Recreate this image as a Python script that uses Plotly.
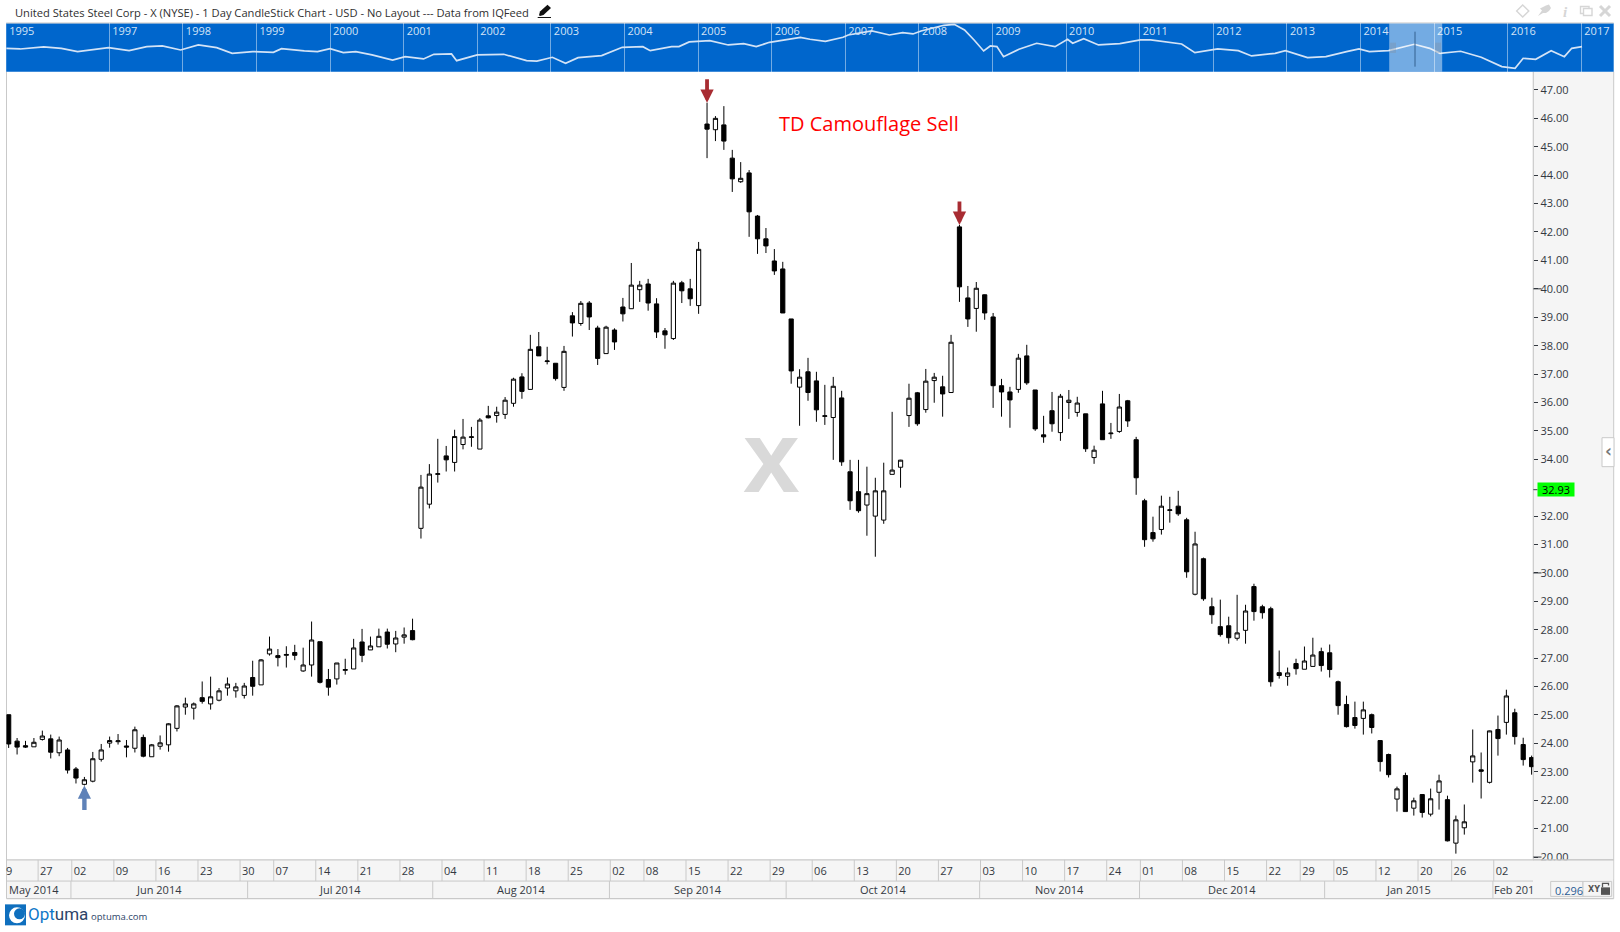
import pandas as pd
import plotly.graph_objects as go

W, H = 1620, 932

# ---------- daily candles ----------
holidays = ["2014-05-26", "2014-07-04", "2014-09-01", "2014-11-27", "2014-12-25", "2015-01-01", "2015-01-19"]
dates = [d.strftime("%Y-%m-%d") for d in pd.bdate_range("2014-05-20", "2015-02-06") if d.strftime("%Y-%m-%d") not in holidays]

opens = [25.01,24.08,23.92,23.88,24.14,24.16,23.67,23.77,23.10,22.56,
22.67,23.44,24.01,24.06,23.91,23.83,24.21,23.53,23.90,23.95,
24.53,25.28,25.24,25.61,25.39,25.52,25.95,25.85,25.69,26.32,
26.06,27.15,27.09,27.10,27.20,26.55,26.76,27.58,26.25,26.27,
26.57,26.62,27.57,27.29,27.40,27.92,27.50,27.74,27.97,
31.57,32.42,33.47,34.12,33.89,34.52,34.77,34.36,35.53,35.54,
35.58,35.97,36.90,36.46,37.96,37.44,37.38,36.53,39.05,38.78,
39.50,38.62,37.72,38.55,39.36,39.30,39.97,40.17,39.47,38.52,
38.25,40.21,40.00,39.41,45.80,45.60,45.77,44.60,43.77,44.08,
42.56,41.76,40.98,40.70,38.94,
36.54,37.08,36.76,35.51,35.47,36.16,33.56,32.86,32.39,32.00,31.86,33.47,33.72,35.54,36.34,35.75,36.77,36.55,36.35,42.18,39.68,39.31,39.79,39.01,36.59,36.37,36.46,37.64,36.44,34.86,35.71,34.94,36.00,35.65,35.60,34.06,35.95,34.90,34.98,36.06,34.69,
32.54,31.42,31.53,32.20,32.35,31.87,29.25,30.50,28.81,28.11,28.14,27.70,27.98,29.52,28.81,28.74,26.49,26.36,26.81,26.61,26.71,27.23,27.19,26.17,25.37,24.91,24.88,25.01,24.10,23.61,22.04,22.87,21.72,22.20,21.51,22.28,22.02,20.49,21.03,23.35,23.07,22.63,24.49,24.74,25.08,23.96,23.50]

highs = [25.01,24.19,24.09,24.19,24.45,24.31,24.24,23.84,23.17,22.82,
23.70,23.98,24.24,24.33,24.12,24.59,24.31,23.98,24.28,24.71,
25.35,25.61,25.44,26.18,26.35,25.95,26.32,26.13,26.13,26.91,
26.97,27.76,27.32,27.42,27.47,27.37,28.29,27.58,26.62,26.83,
26.98,27.68,28.03,27.76,28.04,28.04,27.96,28.08,28.39,
33.45,33.83,34.72,34.47,35.04,35.42,35.14,35.45,35.88,35.85,
36.19,36.87,37.03,38.38,38.48,37.96,37.38,37.99,39.18,39.57,
39.57,38.70,38.70,38.61,39.68,40.91,40.28,40.35,39.67,38.62,
40.28,40.28,40.35,41.65,46.55,46.08,46.43,44.89,44.46,44.18,
42.60,42.14,41.40,40.95,38.94,
37.17,37.57,37.08,36.62,36.90,36.41,33.98,33.98,33.74,33.35,33.88,35.67,33.98,36.66,36.37,37.18,37.04,36.94,38.38,42.25,40.10,40.24,39.80,39.15,36.83,36.55,37.71,38.03,36.44,35.53,36.37,36.30,36.44,36.20,35.60,34.48,36.41,35.28,36.30,36.09,34.79,
32.61,31.98,32.72,32.68,32.89,31.94,31.45,30.54,29.13,29.06,28.46,29.23,28.88,29.62,28.88,28.81,27.27,26.67,26.98,27.41,27.72,27.37,27.48,26.21,25.68,25.47,25.47,25.05,24.10,23.64,22.48,22.97,22.09,22.20,22.41,22.90,22.16,21.46,21.85,24.49,23.68,24.45,24.98,25.89,25.22,24.20,23.57]

lows = [23.84,23.61,23.84,23.88,24.10,23.47,23.55,22.94,22.59,22.52,
22.63,23.36,23.85,23.96,23.51,23.68,23.51,23.53,23.78,23.71,
24.42,25.01,24.84,25.40,25.19,25.48,25.68,25.61,25.58,25.68,
26.06,27.09,26.71,26.67,26.93,26.52,26.35,26.11,25.68,26.07,
26.42,26.62,26.86,27.29,27.40,27.34,27.21,27.51,27.63,
31.21,32.27,33.18,33.57,33.57,34.35,34.44,34.36,35.44,35.29,
35.42,35.85,36.13,36.46,37.64,37.34,36.77,36.41,38.32,38.70,
38.55,37.32,37.72,37.85,38.85,39.30,39.54,39.23,38.27,37.89,
38.20,39.50,39.40,39.12,44.60,45.20,44.89,43.41,43.73,41.83,
41.23,41.26,40.49,39.15,36.66,
35.18,36.06,35.32,35.21,33.98,33.77,32.22,32.12,31.31,30.57,31.73,33.47,33.00,35.14,35.18,35.64,35.99,35.50,36.35,39.54,38.66,38.49,38.91,35.81,35.50,35.11,36.34,36.62,35.00,34.58,34.97,34.65,35.42,35.50,34.26,33.84,34.69,34.72,34.93,35.14,32.75,
30.92,31.10,31.35,31.77,32.01,29.83,29.21,29.02,28.21,27.76,27.51,27.62,27.51,28.32,28.39,26.00,26.28,26.03,26.42,26.61,26.70,26.53,26.32,25.01,24.56,24.52,24.31,24.35,23.01,22.80,21.60,21.60,21.46,21.39,21.43,21.67,20.55,20.12,20.79,22.62,22.06,22.59,23.57,24.31,23.96,23.22,22.90]

closes = [23.98,23.87,23.87,24.04,24.26,23.69,24.12,23.06,22.78,22.72,
23.46,23.77,24.10,24.09,23.87,24.48,23.55,23.95,24.02,24.69,
25.32,25.39,25.39,25.48,25.64,25.85,26.09,25.99,26.02,26.01,
26.94,27.32,27.02,27.13,27.10,26.76,27.64,26.15,25.98,26.83,
26.60,27.36,27.10,27.43,27.77,27.49,27.71,27.82,27.65,
33.02,33.48,33.49,33.98,34.80,34.78,34.79,35.38,35.46,35.66,
36.08,36.82,36.39,37.87,37.64,37.46,36.84,37.80,38.80,39.49,
39.01,37.55,38.65,38.13,39.12,40.13,40.13,39.50,38.48,38.38,
40.20,39.93,39.65,41.39,45.62,46.00,45.20,43.87,43.89,42.71,
41.76,41.51,40.63,39.15,37.11,
36.89,36.35,35.74,35.53,36.57,33.91,32.54,32.19,32.79,32.89,32.89,33.62,33.97,36.15,35.25,36.75,36.89,36.30,38.12,40.07,38.94,40.02,39.15,36.59,36.37,36.09,37.56,36.69,35.07,34.79,35.25,36.22,36.08,35.98,34.37,34.32,34.69,34.92,35.84,35.35,33.35,
31.17,31.20,32.35,32.22,32.08,30.04,31.02,29.09,28.53,27.83,27.72,27.89,28.66,28.64,28.60,26.17,26.39,26.48,26.63,26.90,27.11,26.74,26.60,25.33,24.59,24.63,25.18,24.56,23.36,22.90,22.40,21.60,21.98,21.57,22.05,22.68,20.57,21.31,21.24,23.56,23.02,24.44,24.17,25.67,24.24,23.43,23.18]

assert len(dates) == len(opens) == len(highs) == len(lows) == len(closes), (len(dates), len(opens), len(highs), len(lows), len(closes))

week_dates = ["2014-05-27","2014-06-02","2014-06-09","2014-06-16","2014-06-23","2014-06-30","2014-07-07","2014-07-14","2014-07-21","2014-07-28",
              "2014-08-04","2014-08-11","2014-08-18","2014-08-25","2014-09-02","2014-09-08","2014-09-15","2014-09-22","2014-09-29",
              "2014-10-06","2014-10-13","2014-10-20","2014-10-27","2014-11-03","2014-11-10","2014-11-17","2014-11-24",
              "2014-12-01","2014-12-08","2014-12-15","2014-12-22","2014-12-29","2015-01-05","2015-01-12","2015-01-20","2015-01-26","2015-02-02"]
week_labels = [d[-2:] for d in week_dates]
month_starts = ["2014-06-02","2014-07-01","2014-08-01","2014-09-02","2014-10-01","2014-11-03","2014-12-01","2015-01-02","2015-02-02"]
month_labels = ["Jun 2014","Jul 2014","Aug 2014","Sep 2014","Oct 2014","Nov 2014","Dec 2014","Jan 2015"]

price_ticks = [47,46,45,44,43,42,41,40,39,38,37,36,35,34,32,31,30,29,28,27,26,25,24,23,22,21,20]
last_price = 32.93

sell_dates = ["2014-09-17", "2014-10-29"]
buy_dates = ["2014-06-03"]

# ---------- overview strip ----------
ov_year = [1995.6,1995.79,1996.11,1996.35,1996.57,1996.78,1996.99,1997.27,1997.51,1997.72,1997.97,1998.21,1998.46,1998.67,1998.95,1999.23,1999.34,1999.65,1999.83,2000.00,2000.18,2000.35,2000.57,2000.85,2001.02,2001.27,2001.41,2001.65,2001.72,2002.00,2002.36,2002.67,2002.81,2003.02,2003.20,2003.37,2003.69,2003.97,2004.25,2004.35,2004.64,2004.74,2004.88,2005.16,2005.41,2005.62,2005.79,2005.97,2006.24,2006.39,2006.52,
           2006.73,2006.97,2007.04,2007.36,2007.60,2007.78,2007.92,2008.03,2008.34,2008.48,2008.62,2008.75,2008.88,2008.97,2009.06,2009.15,2009.36,2009.60,2009.85,2010.02,2010.09,2010.24,2010.44,2010.73,2011.01,2011.15,2011.57,2011.75,2012.06,2012.34,2012.52,2012.84,2012.98,2013.28,2013.53,2013.81,2013.98,2014.12,2014.38,2014.73,2014.94,2015.08,2015.36,2015.64,2015.92,2016.10,2016.21,2016.38,2016.59,2016.77,2016.87,2017.01]
ov_price = [29.3,27.8,32.5,29.3,22.6,25.7,30.9,24.4,33.4,35.2,25.7,38.1,30.9,19.8,22.6,21.4,28.5,23.8,22.6,28.5,20.9,22.6,17.4,11.7,15.2,12.7,18.3,18.8,11.1,17.4,18.3,11.1,10.8,14.5,9.0,14.1,16.5,31.7,33.4,24.4,33.4,33.4,48.2,53.5,38.1,42.3,33.4,46.9,59.4,69.4,59.4,
            50.8,69.4,83.3,114,83.3,100,90.2,114,178,192,123.5,56.3,23.8,35.2,33.4,15.2,27.1,43.4,33.4,59.4,43.4,62.5,38.1,42.3,56.3,56.3,41.2,20.9,27.8,24.4,16.1,19.8,24.4,14.1,15.2,22.6,27.8,22.6,24.4,40.1,29.3,19.8,23.2,14.5,7.0,6.1,13.4,12.4,24.4,15.2,29.3,33.4]
year_ticks = [1995.6,1997,1998,1999,2000,2001,2002,2003,2004,2005,2006,2007,2008,2009,2010,2011,2012,2013,2014,2015,2016,2017]
year_labels = ["1995","1997","1998","1999","2000","2001","2002","2003","2004","2005","2006","2007","2008","2009","2010","2011","2012","2013","2014","2015","2016","2017"]

TITLE = "United States Steel Corp - X (NYSE) - 1 Day CandleStick Chart - USD - No Layout --- Data from IQFeed"
FONT = "Open Sans"
TXT = "#33383f"
PANEL = "#f5f5f5"
EDGE = "#c9c9c9"

VK = 1.0036
px = lambda x: x / W
py = lambda y: 1 - y * VK / H

fig = go.Figure()
fig.add_trace(go.Candlestick(
    x=dates, open=opens, high=highs, low=lows, close=closes, xaxis="x", yaxis="y",
    increasing=dict(line=dict(color="#000000", width=1), fillcolor="#ffffff"),
    decreasing=dict(line=dict(color="#000000", width=1), fillcolor="#000000"),
    whiskerwidth=0, showlegend=False, hoverinfo="skip"))
fig.add_trace(go.Scatter(x=ov_year, y=ov_price, xaxis="x2", yaxis="y2", mode="lines",
                         line=dict(color="#d3e3f6", width=1.7), showlegend=False, hoverinfo="skip"))

shapes, ann = [], []


def rect(x0, y0, x1, y1, fill, line=None, layer="below", lw=1):
    shapes.append(dict(type="rect", xref="paper", yref="paper", x0=px(x0), x1=px(x1), y0=py(y0), y1=py(y1),
                       fillcolor=fill, line=dict(color=line or "rgba(0,0,0,0)", width=lw if line else 0), layer=layer))


def seg(x0, y0, x1, y1, color, lw=1, layer="below"):
    shapes.append(dict(type="line", xref="paper", yref="paper", x0=px(x0), x1=px(x1), y0=py(y0), y1=py(y1),
                       line=dict(color=color, width=lw), layer=layer))


def poly(pts, fill, layer="above"):
    d = "M" + " L".join(f"{px(a):.5f},{py(b):.5f}" for a, b in pts) + " Z"
    shapes.append(dict(type="path", xref="paper", yref="paper", path=d, fillcolor=fill, line=dict(width=0), layer=layer))


def text(x, y, s, size=11, color=TXT, anchor="left", family=FONT, **kw):
    ann.append(dict(xref="paper", yref="paper", x=px(x), y=py(y), text=s, showarrow=False, xanchor=anchor,
                    yanchor="middle", font=dict(family=family, size=size, color=color), **kw))


# grey panels
rect(1533.3, 71.7, 1613.7, 860.5, PANEL)
rect(6.5, 860.5, 1613.7, 899.3, PANEL)
seg(6.5, 71.7, 6.5, 899.3, EDGE)
seg(1533.3, 71.7, 1533.3, 860.5, EDGE, 1.2)
seg(1613.7, 71.7, 1613.7, 899.3, EDGE)
seg(6.5, 860.5, 1613.7, 860.5, EDGE, 1.2)
seg(6.5, 881.7, 1533, 881.7, EDGE)
seg(6.5, 899.3, 1613.7, 899.3, EDGE, 1.2)

# cover of the clipped lower price label
rect(1533.9, 860.9, 1613.2, 880, PANEL, layer="above")
seg(1533.3, 860.5, 1613.7, 860.5, EDGE, 1.2, layer="above")

# week separators and month labels, placed through the category axis
idx = {d: i for i, d in enumerate(dates)}
for d in week_dates:
    shapes.append(dict(type="line", xref="x", yref="paper", x0=idx[d] - 0.5, x1=idx[d] - 0.5, y0=py(860.5), y1=py(881.7),
                       line=dict(color=EDGE, width=1), layer="below"))
for d in month_starts:
    shapes.append(dict(type="line", xref="x", yref="paper", x0=idx[d] - 0.6, x1=idx[d] - 0.6, y0=py(881.7), y1=py(899.3),
                       line=dict(color=EDGE, width=1), layer="below"))
for a, b, lab in zip(month_starts[:-1], month_starts[1:], month_labels):
    ann.append(dict(xref="x", yref="paper", x=(idx[a] + idx[b]) / 2 - 0.6, y=py(890.5), text=lab, showarrow=False,
                    xanchor="center", yanchor="middle", font=dict(family=FONT, size=11, color=TXT)))
text(6.5, 890.5, "May 2014")
text(1491.5, 890.5, "Feb 201")
text(4.2, 871, "9")

# long ticks at round prices, tick and tag for the last price
for p in [40, 30, 20]:
    shapes.append(dict(type="line", xref="paper", yref="y", x0=px(1533.3), x1=px(1541.5), y0=p, y1=p,
                       line=dict(color=TXT, width=1), layer="below"))
shapes.append(dict(type="line", xref="paper", yref="y", x0=px(1533.3), x1=px(1537.5), y0=last_price, y1=last_price,
                   line=dict(color=TXT, width=1), layer="below"))
ann.append(dict(xref="paper", yref="y", x=px(1556), y=last_price, text=f"{last_price:.2f}", showarrow=False, xanchor="center",
                yanchor="middle", bgcolor="#00ff00", font=dict(family=FONT, size=11, color="#000000"),
                width=36, height=13, align="center", borderpad=0))

# arrows resting on the highs and lows
for d in sell_dates:
    ann.append(dict(xref="x", yref="y", x=d, y=highs[idx[d]], ax=0, ay=-25, axref="pixel", ayref="pixel", text="",
                    showarrow=True, arrowhead=2, arrowwidth=3.8, arrowsize=0.7, arrowcolor="#a82c32"))
for d in buy_dates:
    ann.append(dict(xref="x", yref="y", x=d, y=lows[idx[d]], ax=0, ay=26, axref="pixel", ayref="pixel", text="",
                    showarrow=True, arrowhead=2, arrowwidth=4.4, arrowsize=0.6, arrowcolor="#5f82b8"))

# annotation text and watermark
text(777, 124, "TD Camouflage Sell", size=20, color="#ff0000")
text(771.5, 457, "<b>x</b>", size=102, color="#d9d9d9", anchor="center", family="Liberation Sans")

# header
text(12.5, 12.5, TITLE, size=11.15, color="#2f2f2f")
poly([(539, 15.2), (540, 11.5), (547.5, 4.8), (551, 8), (543.5, 15), (540, 16)], "#111111")
seg(537.7, 17.5, 551, 17.5, "#111111", 1, layer="above")
GREY = "#d6d6d6"
poly([(1522.7, 4), (1529.8, 11), (1522.7, 18), (1515.6, 11), (1522.7, 4), (1522.7, 6), (1517.6, 11), (1522.7, 16), (1527.8, 11), (1522.7, 6)], GREY)
poly([(1538, 16), (1542, 10.5), (1540, 8.5), (1546, 5.5), (1549, 4.5), (1551, 8), (1549, 11), (1546, 13), (1543, 13)], GREY)
text(1565, 12, "<b><i>i</i></b>", size=15, color=GREY, anchor="center", family="Liberation Serif")
rect(1580.5, 6.5, 1589, 13.5, "rgba(0,0,0,0)", GREY, "above", 1.4)
rect(1583.5, 8.5, 1592, 15.5, "#ffffff", GREY, "above", 1.4)
seg(1600, 6, 1610, 16, GREY, 3, "above")
seg(1610, 6, 1600, 16, GREY, 3, "above")

# overview decorations
shapes.append(dict(type="rect", xref="x2", yref="paper", x0=2014.39, x1=2015.11, y0=py(71.7), y1=py(23.3),
                   fillcolor="rgba(255,255,255,0.45)", line=dict(width=0), layer="above"))
seg(1415, 31.7, 1415, 66.7, "#34608f", 1, "above")
for xv in [1391, 1393, 1395, 1436, 1438, 1440]:
    seg(xv, 42.7, xv, 53, "#7f93a8", 0.8, "above")
rect(6.2, 23.3, 1613.7, 71.7, "#0066cc")
seg(6.2, 23, 1613.7, 23, EDGE)

# collapse tab
rect(1602, 438, 1614, 467, "#ffffff", "#c9c9c9")
text(1608, 451.5, "<b>‹</b>", size=17, color="#777777", anchor="center", family="DejaVu Sans")

# scale boxes
rect(1550.7, 882, 1583, 897, "#f5f5f5", EDGE, "above")
rect(1583, 882, 1611.7, 897, "#f5f5f5", EDGE, "above")
text(1553, 890.7, "0.296", size=11, color="#2b5b94")
text(1586, 890, "<b>XY</b>", size=8, color="#555555", family="DejaVu Sans")
rect(1601, 888, 1610, 895.5, "#555555", None, "above")
shapes.append(dict(type="path", xref="paper", yref="paper", layer="above", line=dict(color="#555555", width=1.3),
                   path=f"M{px(1602.5):.5f},{py(888):.5f} L{px(1602.5):.5f},{py(884):.5f} L{px(1608.5):.5f},{py(884):.5f} L{px(1608.5):.5f},{py(886):.5f}"))

# logo
LOGO = "#0f6fbe"
rect(5, 905, 26, 926, LOGO, None, "above")
shapes.append(dict(type="circle", xref="paper", yref="paper", x0=px(9), x1=px(25), y0=py(908), y1=py(924), fillcolor="#ffffff",
                   line=dict(width=0), layer="above"))
shapes.append(dict(type="circle", xref="paper", yref="paper", x0=px(14), x1=px(25), y0=py(909), y1=py(920), fillcolor=LOGO,
                   line=dict(width=0), layer="above"))
text(26, 915, '<span style="color:#0f78c8">Opt</span><span style="color:#2c4468">uma</span>', size=17, color=LOGO, family="Roboto")
text(89, 917, "optuma.com", size=9.5, color="#2c4468")

fig.update_layout(
    width=W, height=H, margin=dict(l=0, r=0, t=0, b=0), paper_bgcolor="#ffffff", plot_bgcolor="rgba(0,0,0,0)",
    boxgap=0.5, boxgroupgap=0, shapes=shapes, annotations=ann, showlegend=False, hovermode=False,
    xaxis=dict(domain=[px(6.5), px(1533.3)], type="category", categoryorder="array", categoryarray=dates,
               range=[-0.258, 181.2], rangeslider=dict(visible=False), tickmode="array", tickvals=week_dates, ticktext=week_labels,
               ticklen=0, ticks="", showgrid=False, zeroline=False, showline=False, anchor="y",
               ticklabelshift=4, ticklabelstandoff=3, tickfont=dict(family=FONT, size=11, color=TXT), tickangle=0),
    yaxis=dict(domain=[py(860.5), py(71.7)], range=[19.90, 47.644], side="right", anchor="x", tickmode="array",
               tickvals=price_ticks, ticktext=[f"{v:.2f}" for v in price_ticks], ticks="outside", ticklen=4, tickwidth=1,
               tickcolor=TXT, showgrid=False, zeroline=False, showline=False,
               tickfont=dict(family=FONT, size=11, color=TXT)),
    xaxis2=dict(domain=[px(6.2), px(1613.7)], range=[1995.6, 2017.44], anchor="y2", side="top", tickmode="array",
                tickvals=year_ticks, ticktext=year_labels, ticklabelposition="inside right", ticklabelshift=3, ticklabelstandoff=-2,
                showgrid=True, gridcolor="rgba(255,255,255,0.45)", gridwidth=1, zeroline=False, showline=False, ticks="",
                tickfont=dict(family=FONT, size=11, color="#d3e3f6")),
    yaxis2=dict(domain=[py(71.7), py(23.3)], type="log", range=[0.672, 2.3185], anchor="x2", visible=False),
)
fig.write_html("out.html", config=dict(displayModeBar=False),
               post_script="document.body.style.margin='0';document.documentElement.style.overflow='hidden';document.body.style.overflow='hidden';")
